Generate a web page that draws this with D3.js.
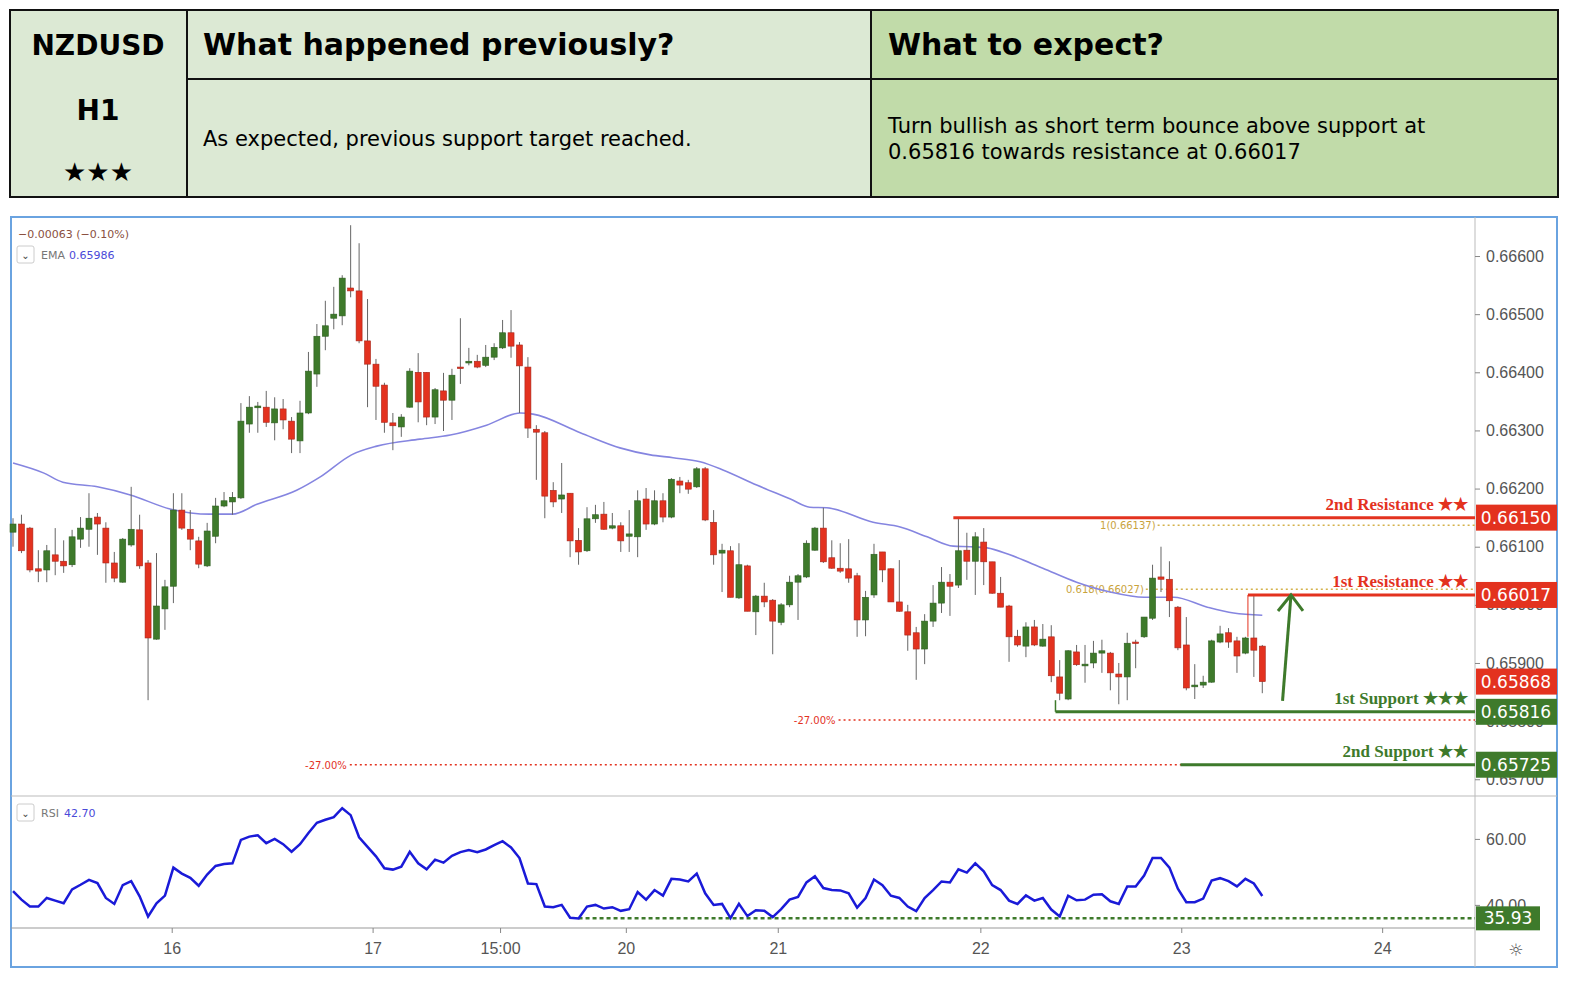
<!DOCTYPE html>
<html>
<head>
<meta charset="utf-8">
<script src="https://cdn.jsdelivr.net/npm/d3@7"></script>
<style>
  body { margin: 0; background: #fff; }
  svg { font-family: "DejaVu Sans", sans-serif; }
</style>
</head>
<body>
<div id="chart"></div>
<script>
// OHLC per hourly bar
const opens  = [0.66125,0.66139,0.66132,0.66062,0.66060,0.66086,0.66075,0.66069,0.66113,0.66130,0.66151,0.66132,0.66072,0.66039,0.66103,0.66129,0.66072,0.65941,0.65993,0.66032,0.66163,0.66130,0.66110,0.66067,0.66118,0.66170,0.66177,0.66184,0.66311,0.66339,0.66340,0.66313,0.66337,0.66316,0.66282,0.66330,0.66397,0.66462,0.66493,0.66497,0.66545,0.66540,0.66454,0.66414,0.66378,0.66313,0.66306,0.66340,0.66400,0.66400,0.66323,0.66368,0.66352,0.66409,0.66416,0.66419,0.66412,0.66426,0.66442,0.66468,0.66447,0.66409,0.66302,0.66296,0.66197,0.66182,0.66192,0.66111,0.66093,0.66148,0.66156,0.66132,0.66136,0.66118,0.66117,0.66182,0.66139,0.66179,0.66151,0.66213,0.66210,0.66203,0.66234,0.66142,0.66089,0.66093,0.66012,0.66067,0.65988,0.66015,0.66008,0.65970,0.66000,0.66039,0.66048,0.66094,0.66132,0.66081,0.66063,0.66062,0.66050,0.65974,0.66017,0.66091,0.66062,0.66005,0.65988,0.65952,0.65924,0.65972,0.66003,0.66039,0.66034,0.66094,0.66075,0.66108,0.66074,0.66020,0.65998,0.65946,0.65929,0.65962,0.65929,0.65945,0.65876,0.65838,0.65919,0.65895,0.65900,0.65917,0.65917,0.65881,0.65876,0.65936,0.65945,0.65977,0.66048,0.66044,0.65996,0.65931,0.65859,0.65862,0.65867,0.65936,0.65952,0.65938,0.65917,0.65943,0.65929];
const highs  = [0.66149,0.66155,0.66134,0.66094,0.66103,0.66132,0.66111,0.66129,0.66151,0.66192,0.66158,0.66142,0.66091,0.66115,0.66203,0.66155,0.66077,0.66089,0.66043,0.66192,0.66192,0.66163,0.66117,0.66141,0.66184,0.66194,0.66194,0.66347,0.66359,0.66349,0.66368,0.66357,0.66354,0.66323,0.66351,0.66435,0.66483,0.66523,0.66547,0.66567,0.66653,0.66622,0.66526,0.66423,0.66382,0.66330,0.66328,0.66407,0.66433,0.66400,0.66373,0.66399,0.66406,0.66493,0.66442,0.66430,0.66447,0.66450,0.66490,0.66507,0.66452,0.66426,0.66309,0.66299,0.66211,0.66244,0.66192,0.66132,0.66168,0.66172,0.66177,0.66158,0.66142,0.66163,0.66197,0.66201,0.66197,0.66192,0.66218,0.66220,0.66215,0.66237,0.66237,0.66163,0.66105,0.66101,0.66106,0.66069,0.66017,0.66038,0.66010,0.66003,0.66050,0.66053,0.66111,0.66134,0.66167,0.66111,0.66106,0.66113,0.66055,0.66024,0.66105,0.66091,0.66063,0.66077,0.66000,0.65962,0.65984,0.66034,0.66065,0.66053,0.66150,0.66124,0.66125,0.66132,0.66074,0.66048,0.66000,0.65957,0.65970,0.65974,0.65967,0.65965,0.65905,0.65922,0.65931,0.65931,0.65938,0.65940,0.65919,0.65900,0.65952,0.65940,0.65979,0.66069,0.66100,0.66075,0.65998,0.65979,0.65898,0.65878,0.65940,0.65964,0.65960,0.65945,0.65945,0.66017,0.65931];
const lows   = [0.66100,0.66089,0.66056,0.66039,0.66039,0.66051,0.66055,0.66065,0.66098,0.66100,0.66086,0.66038,0.66039,0.66038,0.66100,0.66062,0.65836,0.65940,0.65957,0.66003,0.66129,0.66094,0.66063,0.66065,0.66106,0.66168,0.66155,0.66182,0.66296,0.66296,0.66306,0.66283,0.66302,0.66261,0.66261,0.66328,0.66375,0.66438,0.66474,0.66481,0.66529,0.66450,0.66340,0.66318,0.66296,0.66266,0.66289,0.66339,0.66314,0.66309,0.66311,0.66299,0.66318,0.66380,0.66412,0.66407,0.66409,0.66421,0.66440,0.66425,0.66330,0.66287,0.66215,0.66149,0.66168,0.66158,0.66082,0.66069,0.66091,0.66141,0.66129,0.66130,0.66091,0.66091,0.66082,0.66129,0.66137,0.66142,0.66149,0.66192,0.66191,0.66201,0.66144,0.66069,0.66022,0.66013,0.66010,0.65989,0.65948,0.65996,0.65915,0.65965,0.65996,0.65974,0.66046,0.66093,0.66072,0.66062,0.66055,0.66038,0.65945,0.65946,0.66012,0.66039,0.66005,0.65988,0.65921,0.65871,0.65898,0.65962,0.65986,0.65981,0.66029,0.66043,0.66017,0.66034,0.66019,0.65996,0.65902,0.65928,0.65910,0.65929,0.65928,0.65867,0.65836,0.65836,0.65895,0.65866,0.65891,0.65883,0.65853,0.65829,0.65836,0.65891,0.65943,0.65974,0.66022,0.65979,0.65922,0.65853,0.65838,0.65857,0.65866,0.65934,0.65926,0.65883,0.65915,0.65876,0.65848];
const closes = [0.66139,0.66093,0.66060,0.66058,0.66093,0.66075,0.66067,0.66117,0.66132,0.66149,0.66139,0.66072,0.66046,0.66113,0.66130,0.66067,0.65943,0.65998,0.66031,0.66163,0.66132,0.66113,0.66070,0.66127,0.66170,0.66179,0.66185,0.66316,0.66340,0.66342,0.66314,0.66337,0.66318,0.66285,0.66330,0.66402,0.66462,0.66480,0.66500,0.66562,0.66540,0.66454,0.66414,0.66376,0.66314,0.66308,0.66323,0.66402,0.66349,0.66323,0.66370,0.66352,0.66395,0.66407,0.66419,0.66409,0.66426,0.66443,0.66468,0.66445,0.66411,0.66304,0.66297,0.66187,0.66177,0.66189,0.66110,0.66091,0.66148,0.66155,0.66130,0.66136,0.66110,0.66122,0.66179,0.66139,0.66179,0.66151,0.66216,0.66206,0.66199,0.66234,0.66146,0.66086,0.66094,0.66013,0.66069,0.65989,0.66015,0.66005,0.65972,0.66000,0.66039,0.66050,0.66106,0.66132,0.66074,0.66063,0.66058,0.66046,0.65974,0.66013,0.66087,0.66060,0.66005,0.65989,0.65948,0.65924,0.65972,0.66003,0.66039,0.66032,0.66093,0.66075,0.66117,0.66074,0.66020,0.65996,0.65945,0.65931,0.65962,0.65931,0.65941,0.65878,0.65848,0.65921,0.65897,0.65898,0.65917,0.65921,0.65883,0.65876,0.65934,0.65934,0.65979,0.66046,0.66044,0.66007,0.65926,0.65857,0.65862,0.65867,0.65938,0.65950,0.65936,0.65912,0.65943,0.65922,0.65868];

// EMA readings (bar index, value)
const emaIdx = [0,3.6,5.9,10,13.9,18.6,23.3,26,28.9,33.6,36.4,40.1,43.1,48.2,51.8,56.1,60.1,61.6,67.2,71.9,75.5,78.2,81.4,84.1,88.1,92.1,94.4,96.4,101.9,105.1,108.3,111.4,113.4,115.4,118.1,122,126,130,134,137.5,141.5,144.6,148];
const emaVal = [0.66244,0.66227,0.66211,0.66203,0.66189,0.66165,0.66156,0.66156,0.66173,0.66197,0.66220,0.66258,0.66273,0.66285,0.66292,0.66309,0.66330,0.66328,0.66296,0.66270,0.66258,0.66253,0.66246,0.66232,0.66206,0.66182,0.66168,0.66167,0.66142,0.66134,0.66117,0.66101,0.66100,0.66098,0.66086,0.66063,0.66039,0.66022,0.66013,0.66013,0.65996,0.65986,0.65982];

const rsi = [44.2,41.6,39.5,39.5,42.1,41.3,40.5,44.7,46.1,47.6,46.6,42.1,40.3,46.0,47.2,42.6,36.5,40.5,42.8,51.3,49.5,48.2,45.8,49.2,51.8,52.4,52.6,59.7,60.7,61.1,58.7,60.0,58.4,56.1,58.4,61.8,64.9,65.8,66.6,69.3,67.2,60.5,57.6,54.7,51.1,50.7,51.6,56.1,52.6,50.8,53.7,52.8,54.9,56.0,56.6,56.0,56.8,58.1,59.3,57.4,54.2,46.5,46.3,39.5,39.3,40.0,36.1,35.9,39.5,40.0,38.9,39.3,38.2,38.7,43.9,41.6,44.5,42.8,47.9,47.7,47.1,49.5,43.5,40.0,40.3,36.0,40.3,36.6,38.4,38.2,36.3,38.7,41.6,42.4,46.8,48.7,45.1,44.5,44.4,43.5,39.2,42.1,47.7,46.0,42.8,42.1,39.5,38.1,42.1,44.5,47.1,46.8,50.8,49.8,52.6,50.2,46.0,44.5,41.3,40.3,42.9,41.3,42.1,38.6,36.5,42.8,41.4,41.6,43.1,43.2,41.1,40.3,45.6,45.6,48.9,54.2,54.2,51.3,44.9,40.8,40.8,41.9,47.4,48.1,47.2,45.6,47.9,46.5,42.7];

const priceTicks = [0.666,0.665,0.664,0.663,0.662,0.661,0.660,0.659,0.658,0.657];
const timeTickIdx = [18.8,42.6,57.7,72.6,90.6,114.6,138.4,162.2];
const timeTickLbl = ["16","17","15:00","20","21","22","23","24"];

// levels: name, price, start bar, colour kind
const levelNames = ["2nd Resistance ★★","1st Resistance ★★","1st Support ★★★","2nd Support ★★"];
const levelPrice = [0.66150,0.66017,0.65816,0.65725];
const levelStart = [111.4,146.3,123.5,138.3];
const levelKind  = ["r","r","g","g"];

const red = "#e3321f", green = "#3e7a2b";
const W = 1580, H = 988;
const plotL = 12, plotR = 1475, priceTop = 218, priceBot = 796, rsiBot = 928;

const svg = d3.select("#chart").append("svg").attr("width", W).attr("height", H);

// ---- header table
const tbl = svg.append("g");
tbl.append("rect").attr("x",10).attr("y",10).attr("width",177).attr("height",187).attr("fill","#dce9d4");
tbl.append("rect").attr("x",187).attr("y",10).attr("width",684).attr("height",187).attr("fill","#dce9d4");
tbl.append("rect").attr("x",871).attr("y",10).attr("width",687).attr("height",187).attr("fill","#c1dba9");
tbl.append("rect").attr("x",10).attr("y",10).attr("width",1548).attr("height",187).attr("fill","none").attr("stroke","#111").attr("stroke-width",2);
[[187,10,187,197],[871,10,871,197],[187,79,1558,79]].forEach(l =>
  tbl.append("line").attr("x1",l[0]).attr("y1",l[1]).attr("x2",l[2]).attr("y2",l[3]).attr("stroke","#111").attr("stroke-width",2));
const hdr = (x,y,t,s,anchor,w) => tbl.append("text").attr("x",x).attr("y",y).attr("font-size",s)
  .attr("font-weight",w||"bold").attr("text-anchor",anchor||"start").attr("fill","#000").text(t);
hdr(98,55,"NZDUSD",28,"middle");
hdr(98,120,"H1",28,"middle");
hdr(98,181,"★★★",26,"middle");
hdr(203,55,"What happened previously?",30);
hdr(888,55,"What to expect?",30);
hdr(203,146,"As expected, previous support target reached.",21,"start","normal");
hdr(888,133,"Turn bullish as short term bounce above support at",21,"start","normal");
hdr(888,159,"0.65816 towards resistance at 0.66017",21,"start","normal");

// ---- scales
const x = d3.scaleLinear().domain([-0.12, 173.2]).range([plotL, plotR]);
const y = d3.scaleLinear().domain([0.656712, 0.666654]).range([priceBot, priceTop]);
const yr = d3.scaleLinear().domain([33, 72.7]).range([rsiBot, 797]);

// frame
const g = svg.append("g");
g.append("rect").attr("x",11).attr("y",217).attr("width",1546).attr("height",750).attr("fill","#fff").attr("stroke","#6aa3e0").attr("stroke-width",2);
g.append("line").attr("x1",plotR).attr("x2",plotR).attr("y1",217).attr("y2",967).attr("stroke","#bbb");
g.append("line").attr("x1",11).attr("x2",1557).attr("y1",priceBot).attr("y2",priceBot).attr("stroke","#bbb");
g.append("line").attr("x1",11).attr("x2",plotR).attr("y1",rsiBot).attr("y2",rsiBot).attr("stroke","#999");

// price axis
const pAx = g.append("g").attr("transform",`translate(${plotR},0)`)
  .call(d3.axisRight(y).tickValues(priceTicks).tickFormat(d3.format(".5f")).tickSize(5));
pAx.select(".domain").remove();
pAx.selectAll("line").attr("stroke","#888");
pAx.selectAll("text").attr("font-size",16).attr("fill","#555").attr("x",11);

// time axis
const tAx = g.append("g").attr("transform",`translate(0,${rsiBot})`)
  .call(d3.axisBottom(x).tickValues(timeTickIdx).tickFormat((d,i)=>timeTickLbl[i]).tickSize(5));
tAx.select(".domain").remove();
tAx.selectAll("line").attr("stroke","#888");
tAx.selectAll("text").attr("font-size",16).attr("fill","#555").attr("dy","1.1em");
g.append("text").attr("x",1516).attr("y",956).attr("text-anchor","middle").attr("font-size",17).attr("fill","#555").text("☼");

// red dotted fib extensions
const dots = [[0.65802, 97.8, "-27.00%"],[0.65725, 39.9, "-27.00%"]];
dots.forEach(d => {
  g.append("line").attr("x1",x(d[1])).attr("x2",plotR).attr("y1",y(d[0])).attr("y2",y(d[0]))
   .attr("stroke",red).attr("stroke-width",1.5).attr("stroke-dasharray","2,3");
  g.append("text").attr("x",x(d[1])-3).attr("y",y(d[0])+4).attr("text-anchor","end").attr("font-size",10).attr("fill",red).text(d[2]);
});
// gold fib retracements
const fibs = [[0.66137, 135.6, "1(0.66137)"],[0.66027, 134.2, "0.618(0.66027)"]];
fibs.forEach(d => {
  g.append("line").attr("x1",x(d[1])).attr("x2",plotR).attr("y1",y(d[0])).attr("y2",y(d[0]))
   .attr("stroke","#d4b14a").attr("stroke-width",1.5).attr("stroke-dasharray","2,3");
  g.append("text").attr("x",x(d[1])-2).attr("y",y(d[0])+4).attr("text-anchor","end").attr("font-size",10).attr("fill","#c9a33c").text(d[2]);
});

// EMA
g.append("path").datum(emaIdx.map((d,i)=>[d,emaVal[i]]))
  .attr("d", d3.line().x(d=>x(d[0])).y(d=>y(d[1])).curve(d3.curveMonotoneX))
  .attr("fill","none").attr("stroke","#8585e0").attr("stroke-width",1.6);

// candles
const bars = d3.range(opens.length);
const cg = g.append("g");
cg.selectAll(".wick").data(bars).join("line")
  .attr("x1",i=>x(i)).attr("x2",i=>x(i)).attr("y1",i=>y(highs[i])).attr("y2",i=>y(lows[i]))
  .attr("stroke","#666").attr("stroke-width",1);
cg.selectAll(".body").data(bars).join("rect")
  .attr("x",i=>x(i)-3).attr("width",6)
  .attr("y",i=>y(Math.max(opens[i],closes[i])))
  .attr("height",i=>Math.max(1.5, Math.abs(y(opens[i])-y(closes[i]))))
  .attr("fill",i=>closes[i]>=opens[i]?green:red)
  .attr("stroke",i=>closes[i]>=opens[i]?"#2d5e1f":"#a8261a").attr("stroke-width",0.6);

// S/R levels
levelNames.forEach((n,i) => {
  const c = levelKind[i]=="r" ? red : green;
  g.append("line").attr("x1",x(levelStart[i])).attr("x2",plotR).attr("y1",y(levelPrice[i])).attr("y2",y(levelPrice[i]))
   .attr("stroke",c).attr("stroke-width",3);
  g.append("text").attr("x",1468).attr("y",y(levelPrice[i])-8).attr("text-anchor","end")
   .style("font-family","'Liberation Serif', serif").attr("font-weight","bold").attr("font-size",17).attr("fill",c).text(n);
});
g.append("line").attr("x1",x(146.3)).attr("x2",x(146.3)).attr("y1",y(0.66017)).attr("y2",y(0.65945)).attr("stroke",red).attr("stroke-width",1);
g.append("line").attr("x1",x(123.5)).attr("x2",x(123.5)).attr("y1",y(0.65816)).attr("y2",y(0.65836)).attr("stroke",green).attr("stroke-width",1.5);

// arrow
const arrowFrom = [150.4, 0.65835], arrowTo = [151.4, 0.66017];
g.append("line").attr("x1",x(arrowFrom[0])).attr("y1",y(arrowFrom[1])).attr("x2",x(arrowTo[0])).attr("y2",y(arrowTo[1]))
  .attr("stroke",green).attr("stroke-width",3);
g.append("path").attr("d",`M${x(arrowTo[0])-13},${y(arrowTo[1])+16} L${x(arrowTo[0])},${y(arrowTo[1])} L${x(arrowTo[0])+12},${y(arrowTo[1])+16}`)
  .attr("fill","none").attr("stroke",green).attr("stroke-width",3);

// price tags
const tagPrice = [0.66150,0.66017,0.65868,0.65816,0.65725];
const tagKind  = ["r","r","r","g","g"];
tagPrice.forEach((p,i) => {
  g.append("rect").attr("x",plotR+1).attr("y",y(p)-13).attr("width",81).attr("height",26).attr("fill",tagKind[i]=="r"?red:green);
  g.append("text").attr("x",plotR+41).attr("y",y(p)+6).attr("text-anchor","middle").attr("font-size",17).attr("fill","#fff").text(p.toFixed(5));
});

// legends
g.append("text").attr("x",18).attr("y",238).attr("font-size",11).attr("fill","#8a5040").text("−0.00063 (−0.10%)");
const legBox = (yy, name, val) => {
  g.append("rect").attr("x",17).attr("y",yy-9).attr("width",17).attr("height",17).attr("rx",2).attr("fill","#fff").attr("stroke","#ccc");
  g.append("text").attr("x",25.5).attr("y",yy+4).attr("text-anchor","middle").attr("font-size",10).attr("fill","#444").text("⌄");
  g.append("text").attr("x",41).attr("y",yy+4).attr("font-size",11).attr("fill","#777").text(name);
  g.append("text").attr("x",name=="EMA"?69:64).attr("y",yy+4).attr("font-size",11).attr("fill","#4a4ad8").text(val);
};
legBox(255,"EMA","0.65986");
legBox(813,"RSI","42.70");

// RSI
const rAx = g.append("g").attr("transform",`translate(${plotR},0)`)
  .call(d3.axisRight(yr).tickValues([60,40]).tickFormat(d3.format(".2f")).tickSize(5));
rAx.select(".domain").remove();
rAx.selectAll("line").attr("stroke","#888");
rAx.selectAll("text").attr("font-size",16).attr("fill","#555").attr("x",11);
g.append("line").attr("x1",x(67)).attr("x2",plotR).attr("y1",yr(35.93)).attr("y2",yr(35.93))
  .attr("stroke",green).attr("stroke-width",2.5).attr("stroke-dasharray","4,3");
g.append("path").datum(rsi)
  .attr("d", d3.line().x((d,i)=>x(i)).y(d=>yr(d)))
  .attr("fill","none").attr("stroke","#1a1ad8").attr("stroke-width",2.5);
g.append("rect").attr("x",plotR+1).attr("y",yr(35.93)-12).attr("width",64).attr("height",24).attr("fill",green);
g.append("text").attr("x",plotR+33).attr("y",yr(35.93)+6).attr("text-anchor","middle").attr("font-size",17).attr("fill","#fff").text("35.93");
</script>
</body>
</html>
